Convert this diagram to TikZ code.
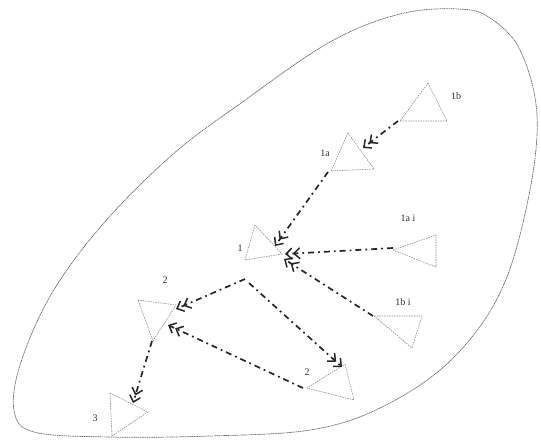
\documentclass[tikz,border=0pt]{standalone}
\usepackage{fontspec}
\setmainfont{Liberation Serif}
\usetikzlibrary{arrows.meta}
\tikzset{
  blob/.style={draw=black!60, line width=0.7pt, dash pattern=on 1.2pt off 0.6pt},
  tri/.style={draw=black!45, line width=0.6pt, dash pattern=on 1.5pt off 1pt},
  flow/.style={draw=black!85, line width=1.7pt, dash pattern=on 6pt off 4pt on 1.8pt off 4pt,
    -{Straight Barb[length=6pt,width=11pt,line width=1.5pt]Straight Barb[length=6pt,width=11pt,line width=1.5pt]}},
  lbl/.style={font=\fontsize{10}{11}\selectfont, text=black!80, inner sep=0pt}
}
\begin{document}
\begin{tikzpicture}[x=1pt,y=-1pt]
\useasboundingbox (0,0) rectangle (541,440);
% outline
\draw[blob] plot[smooth cycle, tension=0.6] coordinates {
  (459,9) (400,14) (330,42) (241,103) (172,155) (103,224) (52,293) (21,362)
  (14,410) (34,432) (110,437) (210,436) (310,430) (380,408) (449,362)
  (500,293) (528,200) (537,115) (520,50) (490,18)};
% triangles
\draw[tri] (428,83) -- (400,121) -- (447,121) -- cycle;
\draw[tri] (348,133) -- (331,171) -- (374,169) -- cycle;
\draw[tri] (255,225) -- (245,260) -- (282,254) -- cycle;
\draw[tri] (393,250) -- (436,235) -- (436,267) -- cycle;
\draw[tri] (374,316) -- (422,316) -- (412,348) -- cycle;
\draw[tri] (138,300) -- (176,305) -- (153,341) -- cycle;
\draw[tri] (345,364) -- (354,400) -- (307,388) -- cycle;
\draw[tri] (110,393) -- (112,436) -- (148,412) -- cycle;
% labels
\node[lbl] (l1b) at (456,96) {1b};
\node[lbl] (l1a) at (325,153) {1a};
\node[lbl] (l1) at (240,248) {1};
\node[lbl] (l1ai) at (408,218) {1a i};
\node[lbl] (l1bi) at (403,302) {1b i};
\node[lbl] (l2a) at (165,280) {2};
\node[lbl] (l2b) at (307,372) {2};
\node[lbl] (l3) at (95,418) {3};
% connection points
\coordinate (s1b) at (398,121);
\coordinate (e1a) at (363,148);
\coordinate (s1a) at (328,172);
\coordinate (e1top) at (275,246);
\coordinate (s1ai) at (393,248);
\coordinate (e1mid) at (285,254);
\coordinate (s1bi) at (373,316);
\coordinate (e1low) at (284,259);
\coordinate (s1) at (245,279);
\coordinate (e2a) at (176,309);
\coordinate (s1r) at (249,283);
\coordinate (e2b) at (342,367);
\coordinate (s2b) at (303,388);
\coordinate (e2ab) at (168,325);
\coordinate (s2a) at (152,341);
\coordinate (e3) at (133,403);
% arrows
\draw[flow] (s1b) -- (e1a);
\draw[flow] (s1a) -- (e1top);
\draw[flow] (s1ai) -- (e1mid);
\draw[flow] (s1bi) -- (e1low);
\draw[flow] (s1) -- (e2a);
\draw[flow] (s1r) -- (e2b);
\draw[flow] (s2b) -- (e2ab);
\draw[flow] (s2a) -- (e3);
\end{tikzpicture}
\end{document}
